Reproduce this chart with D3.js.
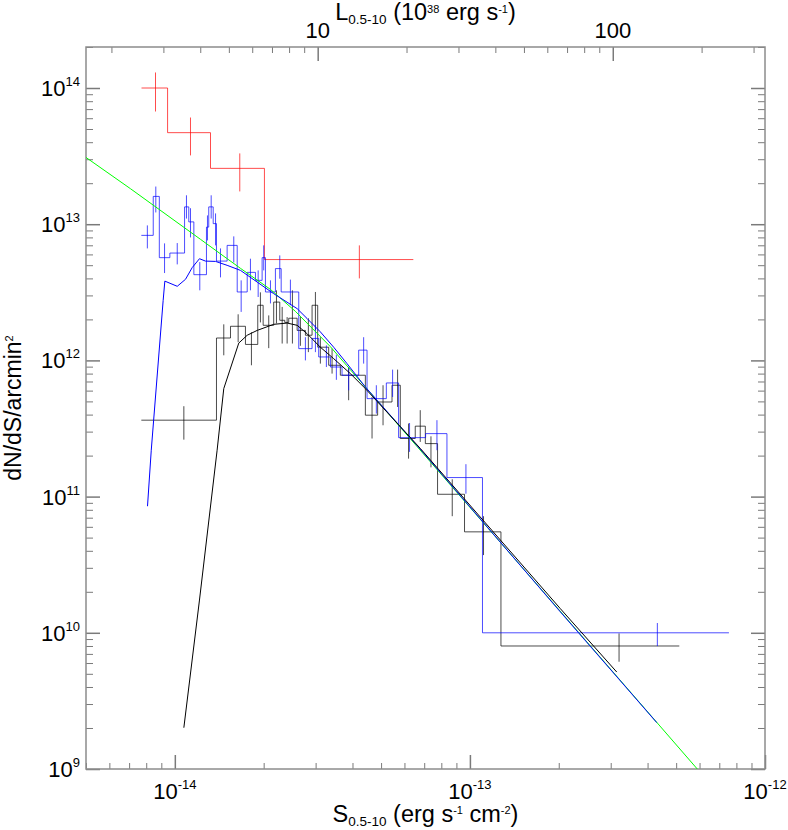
<!DOCTYPE html>
<html>
<head>
<meta charset="utf-8">
<script src="https://cdn.jsdelivr.net/npm/d3@7"></script>
<style>
  body { margin: 0; background: #fff; }
  text { font-family: "Liberation Sans", Arial, sans-serif; fill: #000; }
</style>
</head>
<body>
<div id="chart"></div>
<script>
var w = 788;
var h = 830;

// flux in units of 1e-14 erg s^-1 cm^-2
var S_UNIT = 1e-14;
// L (1e38 erg/s) = S * LUM_FACTOR
var LUM_FACTOR = 3.28e14;

// red histogram
var redEdges = [0.771, 0.945, 1.321, 2.012, 6.43];
var redN = [1.0e14, 4.7e13, 2.57e13, 5.5e12];
var redS = [0.86, 1.13, 1.66, 4.22];
var redLo = [6.72e13, 3.20e13, 1.74e13, 4.0e12];
var redHi = [1.30e14, 6.07e13, 3.31e13, 6.99e12];

// blue histogram
var blueEdges = [0.77, 0.845, 0.886, 0.962, 1.079, 1.115, 1.160, 1.280, 1.303, 1.349, 1.384,
    1.504, 1.627, 1.759, 1.876, 1.976, 2.028, 2.192, 2.293, 2.630, 2.918, 3.073, 3.367,
    3.687, 4.198, 4.481, 5.209, 5.732, 7.077, 8.359, 11.03, 75.47];
var blueN = [8.28e12, 1.60e13, 5.68e12, 6.14e12, 1.34e13, 1.04e13, 4.26e12, 9.52e12, 1.34e13,
    1.01e13, 5.36e12, 6.99e12, 3.18e12, 4.43e12, 3.87e12, 5.68e12, 3.18e12, 4.72e12, 3.18e12,
    1.22e12, 1.45e12, 1.06e12, 8.94e11, 7.78e11, 1.19e12, 5.24e11, 6.83e11, 2.71e11, 2.90e11,
    1.38e11, 1.0e10];
var blueS = [0.807, 0.862, 0.923, 1.019, 1.095, 1.130, 1.215, 1.290, 1.328, 1.374, 1.428, 1.584,
    1.678, 1.804, 1.916, 2.001, 2.109, 2.268, 2.464, 2.770, 2.995, 3.263, 3.527, 3.882, 4.364,
    4.818, 5.470, 6.244, 7.732, 9.694, 43.17];
var blueLo = [6.64e12, 1.22e13, 4.38e12, 5.07e12, 1.10e13, 8.00e12, 3.27e12, 7.60e12, 1.10e13,
    6.99e12, 4.07e12, 5.24e12, 2.27e12, 3.27e12, 2.92e12, 4.58e12, 2.62e12, 3.98e12, 2.54e12,
    1.00e12, 1.15e12, 8.94e11, 7.2e11, 6.03e11, 9.47e11, 4.07e11, 5.39e11, 2.13e11, 2.19e11,
    1.05e11, 7.99e9];
var blueHi = [9.8e12, 1.89e13, 7.23e12, 7.27e12, 1.63e13, 1.31e13, 5.27e12, 1.16e13, 1.63e13,
    1.20e13, 6.64e12, 8.14e12, 3.87e12, 5.58e12, 4.58e12, 6.99e12, 3.87e12, 5.90e12, 3.92e12,
    1.48e12, 1.81e12, 1.29e12, 1.1e12, 8.94e11, 1.48e12, 6.57e11, 8.56e11, 3.47e11, 3.64e11,
    1.73e11, 1.18e10];

// black histogram
var blackEdges = [0.77, 1.384, 1.544, 1.735, 1.910, 1.992, 2.163, 2.268, 2.358, 2.432, 2.597,
    2.770, 2.918, 3.049, 3.322, 3.638, 4.423, 4.867, 5.445, 5.809, 6.527, 7.062, 7.768, 9.588,
    12.74, 51.24];
var blackN = [3.64e11, 1.46e12, 1.78e12, 1.31e12, 2.54e12, 1.81e12, 2.68e12, 1.97e12, 1.90e12,
    2.04e12, 1.66e12, 1.53e12, 2.54e12, 1.25e12, 9.21e11, 7.78e11, 3.96e11, 4.95e11, 6.57e11,
    2.67e11, 3.29e11, 2.45e11, 1.04e11, 5.51e10, 8.0e9];
var blackS = [1.073, 1.465, 1.639, 1.818, 1.950, 2.081, 2.210, 2.311, 2.402, 2.503, 2.664, 2.835,
    2.995, 3.113, 3.411, 3.882, 4.659, 5.077, 5.688, 6.195, 6.787, 7.379, 8.712, 11.12, 32.02];
var blackLo = [2.62e11, 1.09e12, 1.36e12, 9.21e11, 1.90e12, 1.23e12, 1.87e12, 1.33e12, 1.33e12,
    1.33e12, 1.28e12, 1.15e12, 1.66e12, 9.47e11, 8.00e11, 5.10e11, 2.67e11, 3.34e11, 4.55e11,
    1.90e11, 2.52e11, 1.64e11, 7.18e10, 3.72e10, 6.13e9];
var blackHi = [4.61e11, 1.84e12, 2.18e12, 1.61e12, 3.16e12, 2.14e12, 3.27e12, 2.47e12, 2.08e12,
    3.27e12, 2.1e12, 2.04e12, 3.18e12, 1.48e12, 1.22e12, 8.94e11, 5.39e11, 6.57e11, 8.56e11,
    3.44e11, 4.31e11, 2.77e11, 1.34e11, 7.18e10, 9.9e9];

// model curves
var blueModelS = [0.808, 0.832, 0.913, 0.925, 1.019, 1.087, 1.145, 1.212, 1.270, 1.374, 1.504,
    1.669, 1.901, 2.163, 2.597, 2.807, 3.113, 3.454, 3.833, 4.423, 6.787, 20.22, 42.97];
var blueModelN = [8.50e10, 2.19e11, 2.76e12, 3.82e12, 3.50e12, 3.94e12, 4.80e12, 5.58e12,
    5.36e12, 5.33e12, 4.99e12, 4.58e12, 3.76e12, 3.09e12, 2.40e12, 2.03e12, 1.62e12, 1.25e12,
    9.47e11, 6.38e11, 2.23e11, 1.43e10, 2.19e9];
var blackModelS = [1.073, 1.212, 1.391, 1.465, 1.647, 1.759, 1.901, 2.163, 2.402, 2.597, 2.807,
    3.113, 3.454, 3.934, 4.423, 6.787, 20.22, 31.45];
var blackModelN = [2.01e9, 1.74e10, 2.19e11, 6.21e11, 1.34e12, 1.53e12, 1.66e12, 1.84e12,
    1.88e12, 1.81e12, 1.57e12, 1.25e12, 1.03e12, 8.00e11, 6.21e11, 2.26e11, 1.51e10, 5.15e9];
var greenS = [0.5, 0.708, 1.222, 1.669, 2.109, 2.563, 3.367, 4.253, 58.96];
var greenN = [3.09e13, 1.82e13, 7.74e12, 4.74e12, 3.32e12, 2.29e12, 1.26e12, 7.03e11, 1.0e9];

// ticks
var yMajor = [1e9, 1e10, 1e11, 1e12, 1e13, 1e14];
var yLabels = ["9", "10", "11", "12", "13", "14"];
var xMajor = [1e-14, 1e-13, 1e-12];
var xLabels = ["-14", "-13", "-12"];
var topMajor = [10, 100];
var topLabels = ["10", "100"];

var plotL = 86, plotR = 765, plotT = 47, plotB = 769;

var x = d3.scaleLog().domain([5e-15, 1e-12]).range([plotL, plotR]);
var y = d3.scaleLog().domain([1e9, 2e14]).range([plotB, plotT]);
var xTop = d3.scaleLog().domain([5e-15 * LUM_FACTOR, 1e-12 * LUM_FACTOR]).range([plotL, plotR]);

function minors(lo, hi) {
    var out = [];
    for (var e = Math.floor(Math.log10(lo)); e <= Math.ceil(Math.log10(hi)); e++) {
        for (var k = 2; k <= 9; k++) {
            var v = k * Math.pow(10, e);
            if (v >= lo * 0.999 && v <= hi * 1.001) out.push(v);
        }
    }
    return out;
}

var svg = d3.select("#chart")
    .append("svg")
    .attr("width", w)
    .attr("height", h);

svg.append("defs").append("clipPath")
    .attr("id", "plot")
    .append("rect")
    .attr("x", plotL).attr("y", plotT)
    .attr("width", plotR - plotL).attr("height", plotB - plotT);

// axes ticks
function styleAxis(g, width) {
    g.select(".domain").remove();
    g.selectAll(".tick line").attr("stroke", "#7a7a7a").attr("stroke-width", width);
    g.selectAll(".tick text").remove();
}

var yMinor = minors(1e9, 2e14);
var xMinor = minors(5e-15, 1e-12);
var topMinor = minors(5e-15 * LUM_FACTOR, 1e-12 * LUM_FACTOR);

svg.append("g").attr("transform", "translate(" + plotL + ",0)")
    .call(d3.axisLeft(y).tickValues(yMajor).tickSize(-14)).call(styleAxis, 1.5);
svg.append("g").attr("transform", "translate(" + plotL + ",0)")
    .call(d3.axisLeft(y).tickValues(yMinor).tickSize(-7)).call(styleAxis, 1);
svg.append("g").attr("transform", "translate(" + plotR + ",0)")
    .call(d3.axisRight(y).tickValues(yMajor).tickSize(-14)).call(styleAxis, 1.5);
svg.append("g").attr("transform", "translate(" + plotR + ",0)")
    .call(d3.axisRight(y).tickValues(yMinor).tickSize(-7)).call(styleAxis, 1);
svg.append("g").attr("transform", "translate(0," + plotB + ")")
    .call(d3.axisBottom(x).tickValues(xMajor).tickSize(-14)).call(styleAxis, 1.5);
svg.append("g").attr("transform", "translate(0," + plotB + ")")
    .call(d3.axisBottom(x).tickValues(xMinor).tickSize(-6)).call(styleAxis, 1);
svg.append("g").attr("transform", "translate(0," + plotT + ")")
    .call(d3.axisTop(xTop).tickValues(topMajor).tickSize(-14)).call(styleAxis, 1.5);
svg.append("g").attr("transform", "translate(0," + plotT + ")")
    .call(d3.axisTop(xTop).tickValues(topMinor).tickSize(-6)).call(styleAxis, 1);

svg.append("rect")
    .attr("x", plotL).attr("y", plotT)
    .attr("width", plotR - plotL).attr("height", plotB - plotT)
    .attr("fill", "none")
    .attr("stroke", "#8c8c8c")
    .attr("stroke-width", 1.5);

// text with super/subscripts: parts = [[text, size, shift]]
function richText(sel, parts) {
    var prev = 0;
    parts.forEach(function (p) {
        sel.append("tspan")
            .attr("font-size", p[1] + "px")
            .attr("dy", (p[2] - prev))
            .text(p[0]);
        prev = p[2];
    });
}

// tick labels
yMajor.forEach(function (v, i) {
    var t = svg.append("text")
        .attr("x", 80)
        .attr("y", y(v) + 8)
        .attr("text-anchor", "end");
    richText(t, [["10", 22, 0], [yLabels[i], 13, -10]]);
});
xMajor.forEach(function (v, i) {
    var t = svg.append("text")
        .attr("x", x(v))
        .attr("y", 799)
        .attr("text-anchor", "middle");
    richText(t, [["10", 22, 0], [xLabels[i], 13, -10]]);
});
topMajor.forEach(function (v, i) {
    svg.append("text")
        .attr("x", xTop(v))
        .attr("y", 38)
        .attr("text-anchor", "middle")
        .attr("font-size", "22px")
        .text(topLabels[i]);
});

// axis titles
var xt = svg.append("text")
    .attr("x", (plotL + plotR) / 2)
    .attr("y", 822)
    .attr("text-anchor", "middle");
richText(xt, [["S", 23.5, 0], ["0.5-10", 13.5, 4], [" (erg s", 23.5, 0], ["-1", 11, -8],
    [" cm", 23.5, 0], ["-2", 11, -8], [")", 23.5, 0]]);

var tt = svg.append("text")
    .attr("x", (plotL + plotR) / 2)
    .attr("y", 20)
    .attr("text-anchor", "middle");
richText(tt, [["L", 23.5, 0], ["0.5-10", 13.5, 4], [" (10", 23.5, 0], ["38", 11, -7],
    [" erg s", 23.5, 0], ["-1", 11, -7], [")", 23.5, 0]]);

var yt = svg.append("text")
    .attr("transform", "translate(21," + ((plotT + plotB) / 2) + ") rotate(-90)")
    .attr("text-anchor", "middle");
richText(yt, [["dN/dS/arcmin", 23, 0], ["2", 11, -8]]);

// data
var plot = svg.append("g").attr("clip-path", "url(#plot)");

var line = d3.line()
    .x(function (d) { return x(d[0] * S_UNIT); })
    .y(function (d) { return y(d[1]); });

function histogram(edges, n, color) {
    var pts = [];
    n.forEach(function (v, i) {
        pts.push([edges[i], v]);
        pts.push([edges[i + 1], v]);
    });
    plot.append("path")
        .attr("d", line(pts))
        .attr("fill", "none")
        .attr("stroke", color)
        .attr("stroke-opacity", 0.7)
        .attr("stroke-width", 1);
}

function errorBars(s, lo, hi, color) {
    plot.append("g")
        .selectAll("line")
        .data(s)
        .enter()
        .append("line")
        .attr("x1", function (d) { return x(d * S_UNIT); })
        .attr("x2", function (d) { return x(d * S_UNIT); })
        .attr("y1", function (d, i) { return y(lo[i]); })
        .attr("y2", function (d, i) { return y(hi[i]); })
        .attr("stroke", color)
        .attr("stroke-opacity", 0.7)
        .attr("stroke-width", 1);
}

function curve(s, n, color) {
    plot.append("path")
        .attr("d", line(s.map(function (d, i) { return [d, n[i]]; })))
        .attr("fill", "none")
        .attr("stroke", color)
        .attr("stroke-width", 1);
}

histogram(redEdges, redN, "#ff0000");
errorBars(redS, redLo, redHi, "#ff0000");
histogram(blackEdges, blackN, "#000000");
errorBars(blackS, blackLo, blackHi, "#000000");
histogram(blueEdges, blueN, "#0000ff");
errorBars(blueS, blueLo, blueHi, "#0000ff");

curve(greenS, greenN, "#00ff00");
curve(blueModelS, blueModelN, "#0000ff");
curve(blackModelS, blackModelN, "#000000");
</script>
</body>
</html>
